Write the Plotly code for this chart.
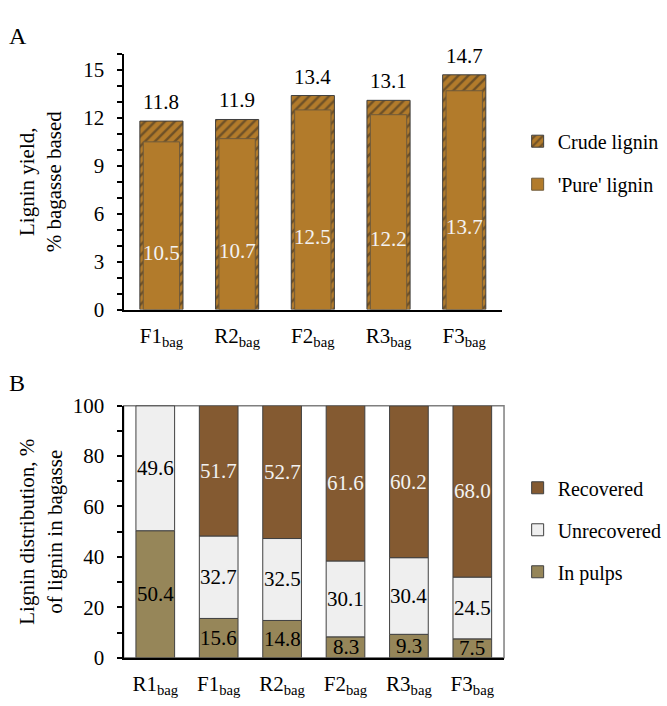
import plotly.graph_objects as go

# ---------------- data ----------------
cats_a = ["F1<sub>bag</sub>", "R2<sub>bag</sub>", "F2<sub>bag</sub>", "R3<sub>bag</sub>", "F3<sub>bag</sub>"]
crude_lignin = [11.8, 11.9, 13.4, 13.1, 14.7]
pure_lignin = [10.5, 10.7, 12.5, 12.2, 13.7]

cats_b = ["R1<sub>bag</sub>", "F1<sub>bag</sub>", "R2<sub>bag</sub>", "F2<sub>bag</sub>", "R3<sub>bag</sub>", "F3<sub>bag</sub>"]
in_pulps = [50.4, 15.6, 14.8, 8.3, 9.3, 7.5]
unrecovered = [49.6, 32.7, 32.5, 30.1, 30.4, 24.5]
recovered = [None, 51.7, 52.7, 61.6, 60.2, 68.0]

# ---------------- style ----------------
FONT = "Liberation Serif, Times New Roman, DejaVu Serif, serif"
FS = 21
GOLD = "#B27B2B"
BROWN = "#845A31"
LIGHT = "#EFEFEF"
OLIVE = "#968659"
W, H = 667, 706

def px_x(p):
    return p / W

def px_y(p):
    return 1 - p / H

fig = go.Figure()

# ---- Panel A ----
fig.add_trace(go.Bar(
    x=cats_a, y=crude_lignin, name="Crude lignin", xaxis="x", yaxis="y",
    width=0.57, opacity=1,
    marker=dict(color=GOLD, line=dict(color="#3f3f3f", width=1),
                pattern=dict(shape="/", fgcolor="#2a2622", bgcolor=GOLD, size=7, solidity=0.35)),
    legend="legend", legendgroup="crude", legendrank=1, hoverinfo="skip",
))
fig.add_trace(go.Bar(
    x=cats_a, y=pure_lignin, name="'Pure' lignin", xaxis="x", yaxis="y",
    width=0.48, opacity=1,
    marker=dict(color=GOLD, line=dict(color="#6e5a3c", width=1)),
    legend="legend", legendgroup="pure", legendrank=2, hoverinfo="skip",
))

# ---- Panel B (stacked via base) ----
base_unrec = list(in_pulps)
base_rec = [p + u for p, u in zip(in_pulps, unrecovered)]
fig.add_trace(go.Bar(
    x=cats_b, y=in_pulps, name="In pulps", xaxis="x2", yaxis="y2",
    width=0.61, opacity=1,
    marker=dict(color=OLIVE, line=dict(color="#404040", width=1)),
    legend="legend2", legendgroup="pulps", legendrank=3, hoverinfo="skip",
))
fig.add_trace(go.Bar(
    x=cats_b, y=unrecovered, base=base_unrec, name="Unrecovered", xaxis="x2", yaxis="y2",
    width=0.61, opacity=1,
    marker=dict(color=LIGHT, line=dict(color="#404040", width=1)),
    legend="legend2", legendgroup="unrec", legendrank=2, hoverinfo="skip",
))
fig.add_trace(go.Bar(
    x=cats_b, y=[r if r is not None else 0 for r in recovered], base=base_rec,
    name="Recovered", xaxis="x2", yaxis="y2",
    width=0.61, opacity=1,
    marker=dict(color=BROWN, line=dict(color="#404040", width=1)),
    legend="legend2", legendgroup="rec", legendrank=1, hoverinfo="skip",
))

annotations = []
# Panel A labels
for c, tot, pure in zip(cats_a, crude_lignin, pure_lignin):
    annotations.append(dict(x=c, y=tot, xref="x", yref="y", text=f"{tot:.1f}",
                            showarrow=False, yanchor="bottom", yshift=5,
                            font=dict(family=FONT, size=FS, color="black")))
    annotations.append(dict(x=c, y=pure / 2, xref="x", yref="y", text=f"{pure:.1f}",
                            showarrow=False, yanchor="middle", yshift=-27,
                            font=dict(family=FONT, size=FS, color="#F2F2F2")))
# Panel B labels
for i, c in enumerate(cats_b):
    annotations.append(dict(x=c, y=in_pulps[i] / 2, xref="x2", yref="y2", text=f"{in_pulps[i]:.1f}",
                            showarrow=False, yanchor="middle",
                            font=dict(family=FONT, size=FS, color="black")))
    annotations.append(dict(x=c, y=base_unrec[i] + unrecovered[i] / 2, xref="x2", yref="y2",
                            text=f"{unrecovered[i]:.1f}", showarrow=False, yanchor="middle",
                            font=dict(family=FONT, size=FS, color="black")))
    if recovered[i] is not None:
        annotations.append(dict(x=c, y=base_rec[i] + recovered[i] / 2, xref="x2", yref="y2",
                                text=f"{recovered[i]:.1f}", showarrow=False, yanchor="middle",
                                font=dict(family=FONT, size=FS, color="#F2F2F2")))
# panel letters
annotations.append(dict(x=px_x(7), y=px_y(25), xref="paper", yref="paper", text="A",
                        showarrow=False, xanchor="left", yanchor="middle",
                        font=dict(family=FONT, size=24, color="black")))
annotations.append(dict(x=px_x(7), y=px_y(384), xref="paper", yref="paper", text="B",
                        showarrow=False, xanchor="left", yanchor="middle",
                        font=dict(family=FONT, size=24, color="black")))

axis_common = dict(showline=True, linecolor="black", linewidth=2, showgrid=False, zeroline=False,
                   tickfont=dict(family=FONT, size=FS, color="black"))

fig.update_layout(
    width=W, height=H, margin=dict(l=0, r=0, t=0, b=0),
    paper_bgcolor="white", plot_bgcolor="white",
    barmode="overlay", font=dict(family=FONT, size=FS, color="black"),
    xaxis=dict(domain=[px_x(127), px_x(516)], anchor="y", type="category",
               range=[-0.5, 4.5], ticks="", ticklabelstandoff=6, **axis_common),
    yaxis=dict(domain=[px_y(308), px_y(43.5)], anchor="x", range=[0, 16],
               tickmode="array", tickvals=[0, 3, 6, 9, 12, 15], ticks="outside",
               ticklen=5, tickwidth=1.5, tickcolor="black", ticklabelstandoff=8,
               minor=dict(dtick=1, ticks="outside", ticklen=5, tickwidth=1.5, tickcolor="black"),
               title=dict(text="Lignin yield,<br>% bagasse based",
                          font=dict(family=FONT, size=FS, color="black"), standoff=16),
               **axis_common),
    xaxis2=dict(domain=[px_x(127), px_x(518)], anchor="y2", type="category",
                range=[-0.5, 5.5], ticks="", ticklabelstandoff=6, **axis_common),
    yaxis2=dict(domain=[px_y(668.5), px_y(407.5)], anchor="x2", range=[0, 100],
                tickmode="array", tickvals=[0, 20, 40, 60, 80, 100], ticks="outside",
                ticklen=5, tickwidth=1.5, tickcolor="black", ticklabelstandoff=8,
                minor=dict(dtick=10, ticks="outside", ticklen=5, tickwidth=1.5, tickcolor="black"),
                title=dict(text="Lignin distribution, %<br>of lignin in bagasse",
                           font=dict(family=FONT, size=FS, color="black"), standoff=5),
                **axis_common),
    legend=dict(x=px_x(532), y=px_y(156), xanchor="left", yanchor="middle",
                font=dict(family=FONT, size=20, color="black"), tracegroupgap=14,
                bgcolor="rgba(0,0,0,0)", traceorder="grouped"),
    legend2=dict(x=px_x(532), y=px_y(536), xanchor="left", yanchor="middle",
                 font=dict(family=FONT, size=20, color="black"), tracegroupgap=13,
                 bgcolor="rgba(0,0,0,0)", traceorder="grouped"),
    annotations=annotations,
    shapes=[dict(type="rect", xref="x2 domain", yref="y2 domain", x0=0, x1=1, y0=0, y1=1,
                 line=dict(color="#7f7f7f", width=1.5), layer="below")],
    showlegend=True,
)

fig.write_html("out.html")
